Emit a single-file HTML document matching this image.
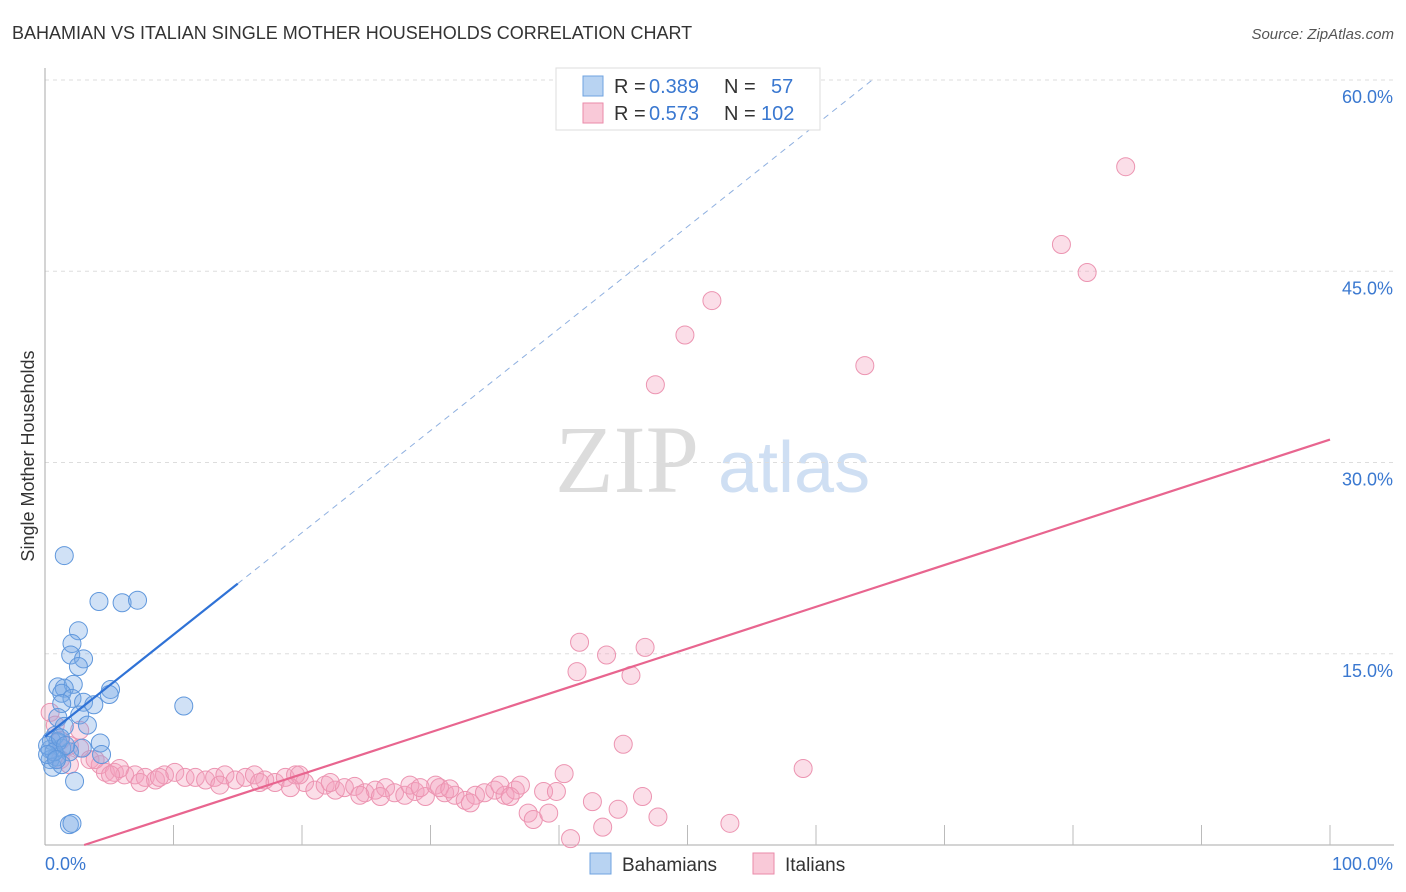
<!DOCTYPE html>
<html><head><meta charset="utf-8"><style>
body{margin:0;background:#fff;font-family:"Liberation Sans",sans-serif}
svg{display:block}
</style></head><body>
<svg id="chart" width="1406" height="892">
<text x="12" y="39" font-size="18" fill="#333">BAHAMIAN VS ITALIAN SINGLE MOTHER HOUSEHOLDS CORRELATION CHART</text>
<text x="1394" y="39" font-size="15" fill="#555" font-style="italic" text-anchor="end">Source: ZipAtlas.com</text>
<text x="0" y="0" transform="translate(34,456) rotate(-90)" font-size="18" fill="#333" text-anchor="middle">Single Mother Households</text>
<g>
<text x="555" y="492" font-family="Liberation Serif,serif" font-size="96" fill="#dcdcdc">ZIP</text>
<text x="718" y="492" font-size="72" fill="#cfdff3">atlas</text>
</g>
<g id="grid"></g><g id="axes"></g><g id="pts"></g><g id="lines"></g>
<g>
<rect x="556" y="68" width="264" height="62" fill="#fff" stroke="#ddd"/>
<rect x="583" y="76" width="20" height="20" fill="#b8d3f2" stroke="#6fa3e0"/>
<rect x="583" y="103" width="20" height="20" fill="#f9c9d8" stroke="#ea8aa9"/>
<g font-size="20">
<text x="614" y="93" fill="#333">R =</text><text x="649" y="93" fill="#3a78d0">0.389</text>
<text x="724" y="93" fill="#333">N =</text><text x="771" y="93" fill="#3a78d0">57</text></g>
<g font-size="20">
<text x="614" y="120" fill="#333">R =</text><text x="649" y="120" fill="#3a78d0">0.573</text>
<text x="724" y="120" fill="#333">N =</text><text x="761" y="120" fill="#3a78d0">102</text></g>
</g>
<g>
<rect x="590" y="853" width="21" height="21" fill="#b8d3f2" stroke="#6fa3e0"/>
<text x="622" y="871" font-size="19" fill="#333">Bahamians</text>
<rect x="753" y="853" width="21" height="21" fill="#f9c9d8" stroke="#ea8aa9"/>
<text x="785" y="871" font-size="19" fill="#333">Italians</text>
</g>
</svg>
<script>
const yTicks=[15,30,45,60];
const yTickLabels=["15.0%","30.0%","45.0%","60.0%"];
const xEndLabels=["0.0%","100.0%"];
const bahX=[1.5,4.2,6.0,7.2,2.6,2.1,2.0,3.0,2.6,1.0,2.2,1.5,5.1,5.0,1.3,2.1,3.0,3.8,1.3,10.8,2.7,1.0,3.3,1.5,0.8,4.3,2.9,1.3,0.4,0.9,1.9,4.4,0.4,0.6,1.3,2.3,1.9,2.1,0.5,1.0,0.2,0.7,1.2,1.6,0.2,0.9];
const bahY=[22.7,19.1,19.0,19.2,16.8,15.8,14.9,14.6,14.0,12.4,12.6,12.3,12.2,11.8,11.9,11.5,11.2,11.0,11.1,10.9,10.2,10.0,9.4,9.3,8.6,8.0,7.6,7.6,7.5,6.9,7.3,7.1,6.7,6.1,6.3,5.0,1.6,1.7,8.2,8.1,7.8,7.3,8.4,7.8,7.1,6.7];
const itaX=[84.1,79.1,81.1,51.9,49.8,47.5,63.8,41.6,43.7,46.7,41.4,45.6,45.0,59.0,40.4,38.8,39.8,42.6,44.6,46.5,47.7,53.3,43.4,40.9,37.6,38.0,39.2,0.4,0.8,1.2,1.9,2.7,3.5,4.3,4.7,5.4,6.2,7.0,7.8,8.6,9.3,10.1,10.9,11.7,12.5,13.2,14.0,14.8,15.6,16.3,17.1,17.9,18.7,19.5,20.2,21.0,21.8,22.6,23.3,24.1,24.9,25.7,26.5,27.2,28.0,28.8,29.6,30.4,31.1,31.9,32.7,33.5,34.2,35.0,35.8,36.6,37.0,19.8,22.2,24.5,28.4,30.7,33.1,35.4,5.8,2.7,3.9,5.1,1.2,1.9,7.4,8.9,13.6,16.7,19.1,26.1,29.2,31.5,36.2];
const itaY=[53.2,47.1,44.9,42.7,40.0,36.1,37.6,15.9,14.9,15.5,13.6,13.3,7.9,6.0,5.6,4.2,4.2,3.4,2.8,3.8,2.2,1.7,1.4,0.5,2.5,2.0,2.5,10.4,9.4,8.2,7.8,7.6,6.7,6.3,5.7,5.7,5.5,5.5,5.3,5.1,5.5,5.7,5.3,5.3,5.1,5.3,5.5,5.1,5.3,5.5,5.1,4.9,5.3,5.5,4.9,4.3,4.7,4.3,4.5,4.6,4.1,4.3,4.5,4.1,3.9,4.2,3.8,4.7,4.1,3.9,3.5,3.9,4.1,4.3,3.9,4.3,4.7,5.5,4.9,3.9,4.7,4.5,3.3,4.7,6.0,9.0,6.7,5.5,6.7,6.3,4.9,5.3,4.7,4.9,4.5,3.8,4.5,4.4,3.8];
const bahFit=[8.5,0.80];
const itaFit=[-1.0,0.328];
const NS='http://www.w3.org/2000/svg';
const X0=45,X1=1330,Y0=845,PY=12.75;
const sx=v=>X0+(X1-X0)*v/100;
const sy=v=>Y0-v*PY;
function mk(t,a,p){const e=document.createElementNS(NS,t);for(const k in a)e.setAttribute(k,a[k]);p.appendChild(e);return e;}
const grid=document.getElementById('grid'),axes=document.getElementById('axes'),pts=document.getElementById('pts'),lines=document.getElementById('lines');
yTicks.forEach((v,i)=>{
 const l=mk('line',{x1:X0,x2:1394,y1:sy(v),y2:sy(v),stroke:'#ddd','stroke-dasharray':'4,4'},grid);
 
 
 const t=mk('text',{x:1393,y:sy(v)+23,'font-size':18,fill:'#3a78d0','text-anchor':'end'},axes);
 t.textContent=yTickLabels[i];
 
 
});
let al=mk('line',{x1:X0,x2:X0,y1:68,y2:Y0,stroke:'#aaa'},axes);


let bl=mk('line',{x1:X0,x2:1394,y1:Y0,y2:Y0,stroke:'#aaa'},axes);


for(let i=1;i<=10;i++){
 const tk=mk('line',{x1:sx(i*10),x2:sx(i*10),y1:825,y2:Y0,stroke:'#bbb'},axes);
 
 
}
[[0,'start',X0],[1,'end',1393]].forEach(([i,a,x])=>{
 const t=mk('text',{x:x,y:870,'font-size':18,fill:'#3a78d0','text-anchor':a},axes);
 t.textContent=xEndLabels[i];
 
 
});
itaX.forEach((x,i)=>{
 const c=mk('circle',{cx:sx(x),cy:sy(itaY[i]),r:9,fill:'rgba(244,160,188,0.35)',stroke:'#ec94b1','stroke-width':1},pts);
 
 
});
bahX.forEach((x,i)=>{
 const c=mk('circle',{cx:sx(x),cy:sy(bahY[i]),r:9,fill:'rgba(120,170,230,0.35)',stroke:'#5f97dc','stroke-width':1},pts);
 
 
});
const bEnd=(60-bahFit[0])/bahFit[1];
let b1=mk('line',{x1:sx(0),y1:sy(bahFit[0]),x2:sx(15),y2:sy(bahFit[0]+bahFit[1]*15),stroke:'#2f72d6','stroke-width':2.2},lines);


let b2=mk('line',{x1:sx(15),y1:sy(bahFit[0]+bahFit[1]*15),x2:sx(bEnd),y2:sy(60),stroke:'#8fb0e0','stroke-width':1,'stroke-dasharray':'6,5'},lines);


const iStart=-itaFit[0]/itaFit[1];
let p1=mk('line',{x1:sx(iStart),y1:sy(0),x2:sx(100),y2:sy(itaFit[0]+itaFit[1]*100),stroke:'#e8658f','stroke-width':2.2},lines);


</script>
</body></html>
